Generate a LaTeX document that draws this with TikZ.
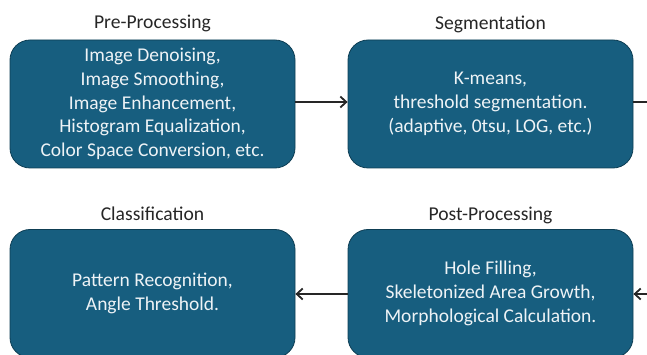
\documentclass[tikz,border=0pt]{standalone}
\usepackage{fontspec}
\setmainfont{Carlito}
\usetikzlibrary{arrows.meta}

\definecolor{boxblue}{HTML}{175E7F}
\definecolor{boxedge}{HTML}{0E3E54}
\definecolor{boxtext}{HTML}{EEF3F6}
\definecolor{linegray}{HTML}{262626}

\begin{document}
\begin{tikzpicture}[x=1pt,y=-1pt,
	stage/.style={draw=boxedge,line width=0.8pt,fill=boxblue,rounded corners=20pt,
		minimum width=285pt,minimum height=128pt,align=center,text=boxtext,
		font=\fontsize{19.5}{23.8}\selectfont},
	title/.style={text=linegray,font=\fontsize{19.6}{22}\selectfont},
	flow/.style={draw=linegray,line width=1.8pt,-{Straight Barb[length=6pt,width=11pt,line width=1.8pt]}}]

\useasboundingbox (0,0) rectangle (647,355);

% top row
\node[stage] (pre) at (152.5,104) {Image Denoising,\\Image Smoothing,\\Image Enhancement,\\Histogram Equalization,\\Color Space Conversion, etc.};
\node[title] (preT) at (152.5,23.5) {Pre-Processing};

\node[stage] (seg) at (490.5,104) {K-means,\\threshold segmentation.\\(adaptive, 0tsu, LOG, etc.)};
\node[title] (segT) at (490.5,24.5) {Segmentation};

% bottom row
\node[stage] (cls) at (152.5,293.5) {Pattern Recognition,\\Angle Threshold.};
\node[title] (clsT) at (152.5,214) {Classification};

\node[stage] (post) at (490.5,293.5) {Hole Filling,\\Skeletonized Area Growth,\\Morphological Calculation.};
\node[title] (postT) at (490.5,215) {Post-Processing};

% connectors
\coordinate (outR) at (660,102);
\coordinate (inR) at (660,294);

\draw[flow] (pre.east |- 0,102) -- (seg.west |- 0,102);
\draw[flow,-] (seg.east |- 0,102) -- (outR);
\draw[flow] (inR) -- (post.east |- 0,294);
\draw[flow] (post.west |- 0,294) -- (cls.east |- 0,294);
\end{tikzpicture}
\end{document}
